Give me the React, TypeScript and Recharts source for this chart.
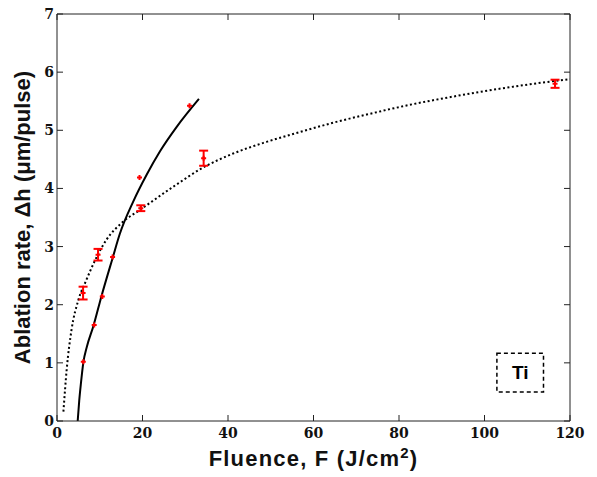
import { ComposedChart, Line, Scatter, ErrorBar, XAxis, YAxis, ReferenceArea } from 'recharts';

const xTicks = [0, 20, 40, 60, 80, 100, 120];
const yTicks = [0, 1, 2, 3, 4, 5, 6, 7];

// measured points with error bars
const errFluence = [6.1, 9.6, 19.6, 34.3, 116.5];
const errRate = [2.2, 2.86, 3.66, 4.52, 5.8];
const errSize = [0.11, 0.1, 0.05, 0.13, 0.07];

// measured points, no error bars
const ptFluence = [6.15, 8.7, 10.6, 13.0, 19.3, 31.0];
const ptRate = [1.02, 1.65, 2.14, 2.82, 4.19, 5.42];

// solid fit curve
const solidFluence = [4.84, 5.2, 5.6, 6.15, 7.0, 8.5, 10.45, 13.0, 14.7, 17.8, 21.0, 24.1, 28.0, 33.2];
const solidRate = [0, 0.35, 0.65, 1.0, 1.28, 1.63, 2.16, 2.8, 3.22, 3.77, 4.24, 4.64, 5.06, 5.54];

// dotted fit curve
const dotFluence = [1.5, 2.26, 3.4, 5.0, 6.9, 7.7, 11.6, 15.5, 19.4, 27.2, 34.2, 41.2, 49, 56.8, 64.6, 72.4, 83.3, 91.2, 98.9, 106.7, 114.5, 120];
const dotRate = [0.16, 0.88, 1.57, 2.08, 2.43, 2.57, 3.12, 3.43, 3.63, 4.03, 4.36, 4.6, 4.8, 4.97, 5.13, 5.27, 5.45, 5.56, 5.66, 5.75, 5.83, 5.88];

const errData = errFluence.map((x, i) => ({ x, y: errRate[i], e: errSize[i] }));
const ptData = ptFluence.map((x, i) => ({ x, y: ptRate[i] }));
const solidData = solidFluence.map((x, i) => ({ x, y: solidRate[i] }));
const dotData = dotFluence.map((x, i) => ({ x, y: dotRate[i] }));

const tickFont = { fontFamily: '"DejaVu Serif", serif', fontWeight: 700, fontSize: 14, fill: '#111' };
const titleFont = { fontFamily: '"Liberation Sans", Arial, sans-serif', fontWeight: 700, fontSize: 22, fill: '#111' };
const axisColor = '#222';

const BottomTick = ({ x, y, payload }: any) => (
  <g>
    <line x1={x} y1={y} x2={x} y2={y - 6} stroke={axisColor} />
    <text x={x} y={y + 17} textAnchor="middle" style={tickFont}>{payload.value}</text>
  </g>
);

const LeftTick = ({ x, y, payload }: any) => (
  <g>
    <line x1={x} y1={y} x2={x + 6} y2={y} stroke={axisColor} />
    <text x={x - 3} y={y + 5} textAnchor="end" style={tickFont}>{payload.value}</text>
  </g>
);

const TopTick = ({ x, y }: any) => <line x1={x} y1={y} x2={x} y2={y + 6} stroke={axisColor} />;
const RightTick = ({ x, y }: any) => <line x1={x - 6} y1={y} x2={x} y2={y} stroke={axisColor} />;

const Plus = ({ cx, cy }: any) => (
  <path d={`M${cx - 2.5},${cy}h5M${cx},${cy - 2.5}v5`} stroke="#f00" strokeWidth={2} />
);

const XTitle = ({ viewBox }: any) => (
  <text x={viewBox.x + viewBox.width / 2} y={viewBox.y + 45} textAnchor="middle" style={{ ...titleFont, letterSpacing: 1.2 }}>
    Fluence, F (J/cm<tspan dy={-8} fontSize={15}>2</tspan><tspan dy={8}>)</tspan>
  </text>
);

const YTitle = ({ viewBox }: any) => {
  const cx = viewBox.x + 30;
  const cy = viewBox.y + viewBox.height / 2;
  return (
    <text x={cx} y={cy} textAnchor="middle" transform={`rotate(-90 ${cx} ${cy})`} style={titleFont}>
      Ablation rate, Δh (μm/pulse)
    </text>
  );
};

export default function App() {
  return (
    <div style={{ position: 'absolute', left: 0, top: 0, background: '#fff' }}>
      <ComposedChart width={597} height={477} margin={{ top: 13, right: 26, left: 0, bottom: 0 }}>
        <XAxis
          type="number"
          dataKey="x"
          domain={[0, 120]}
          ticks={xTicks}
          interval={0}
          height={56}
          tickSize={0}
          tickMargin={0}
          tickLine={false}
          stroke={axisColor}
          tick={(p: any) => <BottomTick {...p} />}
          label={<XTitle />}
          allowDataOverflow
        />
        <XAxis
          xAxisId="top"
          orientation="top"
          type="number"
          dataKey="x"
          domain={[0, 120]}
          ticks={xTicks}
          interval={0}
          height={1}
          tickSize={0}
          tickMargin={0}
          tickLine={false}
          stroke={axisColor}
          tick={(p: any) => <TopTick {...p} />}
          allowDataOverflow
        />
        <YAxis
          type="number"
          domain={[0, 7]}
          ticks={yTicks}
          interval={0}
          width={57}
          tickSize={0}
          tickMargin={0}
          tickLine={false}
          stroke={axisColor}
          tick={(p: any) => <LeftTick {...p} />}
          label={<YTitle />}
          allowDataOverflow
        />
        <YAxis
          yAxisId="right"
          orientation="right"
          type="number"
          domain={[0, 7]}
          ticks={yTicks}
          interval={0}
          width={1}
          tickSize={0}
          tickMargin={0}
          tickLine={false}
          stroke={axisColor}
          tick={(p: any) => <RightTick {...p} />}
          allowDataOverflow
        />
        <ReferenceArea
          x1={102.9}
          x2={113.8}
          y1={0.5}
          y2={1.165}
          stroke="#000"
          strokeWidth={1.5}
          strokeDasharray="4 3"
          fill="#fff"
          fillOpacity={1}
          label={{ value: 'Ti', position: 'center', fill: '#000', fontSize: 19, fontWeight: 700, fontFamily: '"Liberation Sans", Arial, sans-serif' }}
        />
        {/* invisible copy so the top/right frame axes get drawn */}
        <Line data={dotData} dataKey="y" xAxisId="top" yAxisId="right" stroke="none" dot={false} activeDot={false} legendType="none" isAnimationActive={false} />
        <Line data={dotData} dataKey="y" type="monotone" stroke="#000" strokeWidth={2} strokeDasharray="2 2.5" dot={false} isAnimationActive={false} />
        <Line data={solidData} dataKey="y" type="monotone" stroke="#000" strokeWidth={2} dot={false} isAnimationActive={false} />
        <Scatter data={ptData} dataKey="y" shape={(p: any) => <Plus {...p} />} isAnimationActive={false} />
        <Scatter data={errData} dataKey="y" shape={(p: any) => <Plus {...p} />} isAnimationActive={false}>
          <ErrorBar dataKey="e" direction="y" width={4.5} stroke="#f00" strokeWidth={2} isAnimationActive={false} />
        </Scatter>
      </ComposedChart>
    </div>
  );
}
